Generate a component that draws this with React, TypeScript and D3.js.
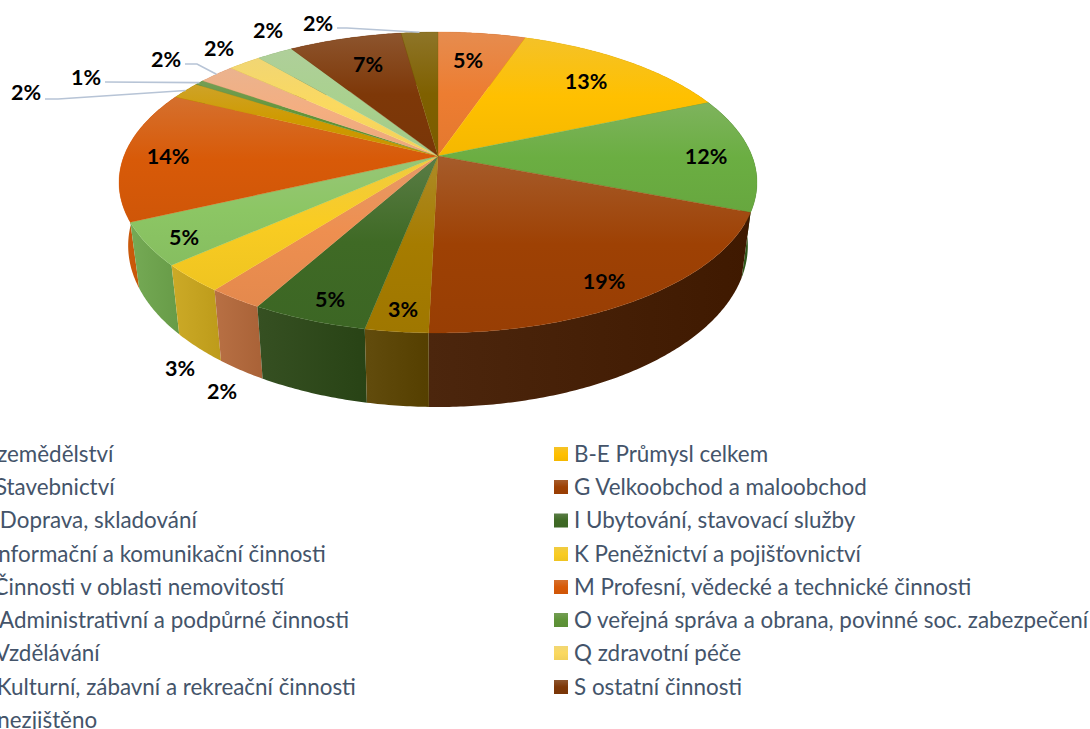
import React from 'react';
import * as d3 from 'd3';

// ---- data ----
const categories = [
  'A zemědělství', 'B-E Průmysl celkem', 'F Stavebnictví', 'G Velkoobchod a maloobchod',
  'H Doprava, skladování', 'I Ubytování, stavovací služby', 'J Informační a komunikační činnosti',
  'K Peněžnictví a pojišťovnictví', 'L Činnosti v oblasti nemovitostí', 'M Profesní, vědecké a technické činnosti',
  'N Administrativní a podpůrné činnosti', 'O veřejná správa a obrana, povinné soc. zabezpečení',
  'P Vzdělávání', 'Q zdravotní péče', 'R Kulturní, zábavní a rekreační činnosti', 'S ostatní činnosti', 'X nezjištěno',
];
const shares = [5.25, 13.35, 12.3, 19.49, 2.7, 5.0, 2.4, 3.0, 4.6, 14.1, 1.85, 0.55, 2.2, 2.0, 2.2, 6.8, 2.21];

// ---- styles ----
const topColors = ['#ED7D31', '#FFC000', '#6BAE42', '#9E4104', '#A67C00', '#3F6A25', '#EE8F50', '#F9CC22', '#8CC664', '#D85A08', '#CF9A00', '#5F9438', '#F4AE80', '#FBD95F', '#A9D18E', '#7E3808', '#7F6000'];
const wallColors = ['#A85420', '#B08500', '#2F5A1A', '#431B00', '#5A4300', '#2B4716', '#B4683A', '#C9A51C', '#6EA54C', '#C95200', '#8A6900', '#3F6425', '#B07B58', '#B09A40', '#779560', '#5A2705', '#5A4400'];
const legendText = '#44546A';
const leaderColor = '#B7C4D6';

// ---- layout ----
const W = 1090, H = 729;
const apex = { x: 438, y: 156 };
const persp = 0.176, planeA = 314, planeB = 145.8;
const lowerA = 305, lowerB = 156.3, lowerDrop = 61.3;
const labelXY: [number, number][] = [[468, 60], [586, 81], [706, 156], [604, 281], [403, 309], [330, 299], [222, 391], [180, 368], [184, 237], [168, 156], [26, 92], [86, 77], [166, 59], [219, 48], [268, 30], [368, 64], [318, 23]];
const leaders: { slice: number; from: [number, number]; elbow: [number, number] }[] = [
  { slice: 10, from: [45, 99], elbow: [58, 99] },
  { slice: 11, from: [105, 82], elbow: [105, 82] },
  { slice: 12, from: [185, 64], elbow: [197, 64] },
  { slice: 16, from: [337, 28], elbow: [347, 28] },
];
const legendRows = [454, 487, 520.5, 554, 587, 620, 653, 687, 720];
const legendCols = [{ swatch: -43, text: -23 }, { swatch: 554, text: 574 }];

function rim(theta: number, lower = false): [number, number] {
  const u = Math.sin(theta), v = Math.cos(theta), w = 1 + persp * v;
  return lower
    ? [apex.x + (lowerA * u) / w, apex.y + lowerDrop - (lowerB * v) / w]
    : [apex.x + (planeA * u) / w, apex.y - (planeB * v) / w];
}
const arcs = d3.pie<number>().sort(null).value((d) => d).startAngle(0).endAngle(2 * Math.PI)(shares);
const sweep = (a: number, b: number) => [...d3.range(a, b, 0.01), b];
const line = d3.line();
const legendPos = (i: number) => {
  const col = i % 2;
  const row = (i - col) / 2;
  return { col, y: legendRows[row] };
};

export default function App() {
  const wallOrder = d3.range(arcs.length).sort(
    (a, b) => Math.cos((arcs[b].startAngle + arcs[b].endAngle) / 2) - Math.cos((arcs[a].startAngle + arcs[a].endAngle) / 2)
  );
  return (
    <svg width={W} height={H} viewBox={`0 0 ${W} ${H}`} style={{ position: 'absolute', left: 0, top: 0, display: 'block', background: '#fff' }}>
      <defs>
        {topColors.map((c, i) => (
          <linearGradient key={i} id={`top${i}`} x1="0" y1="0" x2="0" y2="1">
            <stop offset="0" stopColor={d3.interpolateRgb(c, '#c8c8c8')(0.2)} />
            <stop offset="0.5" stopColor={c} />
            <stop offset="1" stopColor={d3.interpolateRgb(c, '#000')(0.04)} />
          </linearGradient>
        ))}
        {wallColors.map((c, i) => (
          <linearGradient key={i} id={`wall${i}`} x1="0" y1="0" x2="1" y2="0">
            <stop offset="0" stopColor={d3.interpolateRgb(c, '#fff')(0.05)} />
            <stop offset="1" stopColor={d3.interpolateRgb(c, '#000')(0.06)} />
          </linearGradient>
        ))}
      </defs>
      <g>
        {wallOrder.map((i) => {
          const a = arcs[i];
          const angles = sweep(a.startAngle, a.endAngle);
          const pts = [...angles.map((t) => rim(t)), ...angles.slice().reverse().map((t) => rim(t, true))];
          return <path key={i} d={line(pts) + 'Z'} fill={`url(#wall${i})`} />;
        })}
      </g>
      <g>
        {arcs.map((a, i) => {
          const pts: [number, number][] = [[apex.x, apex.y], ...sweep(a.startAngle, a.endAngle).map((t) => rim(t))];
          return <path key={i} d={line(pts) + 'Z'} fill={`url(#top${i})`} stroke={topColors[i]} strokeWidth={0.3} />;
        })}
      </g>
      <g fill="none" stroke={leaderColor} strokeWidth={1.6}>
        {leaders.map((l, i) => {
          const a = arcs[l.slice];
          const end = rim((a.startAngle + a.endAngle) / 2);
          return <path key={i} d={line([l.from, l.elbow, end]) ?? ''} />;
        })}
      </g>
      <g fontFamily="Lato, sans-serif" fontWeight={700} fontSize={21.5} fill="#000" textAnchor="middle">
        {arcs.map((a, i) => (
          <text key={i} x={labelXY[i][0]} y={labelXY[i][1]} dy="0.35em">{`${Math.round(a.value)}%`}</text>
        ))}
      </g>
      <g fontFamily="Lato, sans-serif" fontSize={22.4} fill={legendText}>
        {categories.map((c, i) => {
          const { col, y } = legendPos(i);
          return (
            <g key={i}>
              <rect x={legendCols[col].swatch} y={y - 7} width={14} height={14} fill={`url(#top${i})`} />
              <text x={legendCols[col].text} y={y} dy="0.35em">{c}</text>
            </g>
          );
        })}
      </g>
    </svg>
  );
}
